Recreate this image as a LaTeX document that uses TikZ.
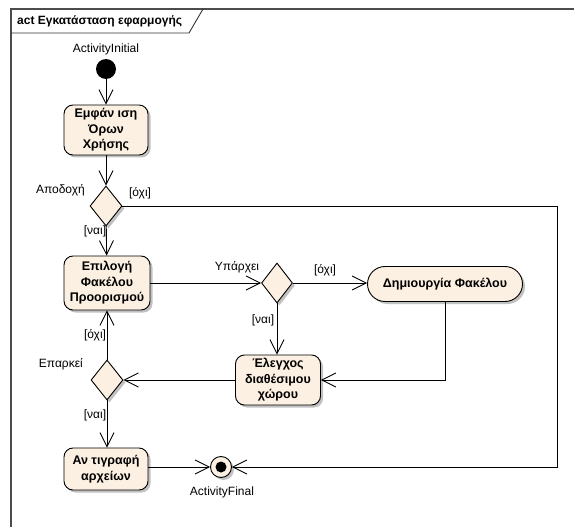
\documentclass[tikz,border=0pt]{standalone}
\usepackage{fontspec}
\setmainfont{Liberation Sans}
\usetikzlibrary{arrows.meta,shapes.geometric,shadows}
\definecolor{actfill}{RGB}{251,240,225}
\begin{document}
\begin{tikzpicture}[x=1pt,y=-1pt,
  every node/.style={font=\fontsize{12}{14}\selectfont},
  flow/.style={draw=black,line width=0.9pt,-{Straight Barb[length=14pt,width=14pt,line width=0.9pt]}},
  frameline/.style={draw=black!70,line width=1.3pt},
  shade/.style={drop shadow={shadow xshift=2.5pt,shadow yshift=-2.5pt,fill=black!30,opacity=0.8}},
  action/.style={shade,draw=black,line width=0.9pt,fill=actfill,rounded corners=9pt,
    align=center,inner sep=1pt,font=\bfseries\fontsize{12.5}{15.5}\selectfont},
  decision/.style={shade,diamond,draw=black,line width=0.9pt,fill=actfill,inner sep=0pt,
    minimum width=32pt,minimum height=40pt},
  lbl/.style={inner sep=1pt,font=\fontsize{12}{14}\selectfont}]
\useasboundingbox (0,0) rectangle (574,527);

% activity frame and its name tab
\draw[frameline] (11,527) -- (11,9) -- (574,9);
\draw[draw=black!80,line width=0.9pt] (11,33) -- (189,33) -- (203,9);
\node[anchor=west,inner sep=0pt,font=\bfseries\fontsize{12}{14}\selectfont] (title) at (17,21) {act Εγκατάσταση εφαρμογής};

% initial and final nodes
\node[circle,fill=black,minimum size=20pt,inner sep=0pt] (init) at (106,69) {};
\node[lbl] (initlbl) at (106,49) {ActivityInitial};
\node[shade,circle,draw=black,line width=0.9pt,fill=actfill,minimum size=21pt,inner sep=0pt] (final) at (221,467) {};
\fill[black] (final.center) circle (5.5pt);
\node[lbl] (finallbl) at (222,492) {ActivityFinal};

% actions
\node[action,minimum width=84pt,minimum height=50pt] (show) at (106,130) {Εμφάν ιση\\Όρων\\Χρήσης};
\node[action,minimum width=86pt,minimum height=54pt] (choose) at (107,283) {Επιλογή\\Φακέλου\\Προορισμού};
\node[action,minimum width=155pt,minimum height=35pt,rounded corners=17.5pt] (create) at (445,284) {Δημιουργία Φακέλου};
\node[action,minimum width=85pt,minimum height=50pt] (check) at (278,380) {Έλεγχος\\διαθέσιμου\\χώρου};
\node[action,minimum width=84pt,minimum height=42pt] (copy) at (106,469) {Αν τιγραφή\\αρχείων};

% decisions
\node[decision] (acc) at (106,206) {};
\node[decision,minimum width=31pt] (exists) at (277,283) {};
\node[decision] (enough) at (107,380) {};

% decision names and guards
\node[lbl,anchor=east] (acclbl) at (86,190) {Αποδοχή};
\node[lbl] (accno) at (140,193) {[όχι]};
\node[lbl] (accyes) at (95,231) {[ναι]};
\node[lbl] (exlbl) at (237,267) {Υπάρχει};
\node[lbl] (exno) at (325,270) {[όχι]};
\node[lbl] (exyes) at (263,320) {[ναι]};
\node[lbl,anchor=east] (enlbl) at (84,364) {Επαρκεί};
\node[lbl] (enno) at (95,335) {[όχι]};
\node[lbl] (enyes) at (95,415) {[ναι]};

% control flows
\coordinate (loopA) at (557,206);
\coordinate (loopB) at (557,467);
\coordinate (bend) at (445,380);
\draw[flow] (init) -- (show);
\draw[flow] (show) -- (acc);
\draw[flow] (acc) -- (choose);
\draw[flow] (acc.east) -- (loopA) -- (loopB) -- (final.east);
\draw[flow] (choose.east |- exists.west) -- (exists.west);
\draw[flow] (exists.east) -- (create.west |- exists.east);
\draw[flow] (exists.south) -- (exists.south |- check.north);
\draw[flow] (create.south) -- (bend) -- (check.east);
\draw[flow] (check.west) -- (enough.east);
\draw[flow] (enough.north) -- (enough.north |- choose.south);
\draw[flow] (enough.south) -- (enough.south |- copy.north);
\draw[flow] (copy.east |- final.west) -- (final.west);
\end{tikzpicture}
\end{document}
